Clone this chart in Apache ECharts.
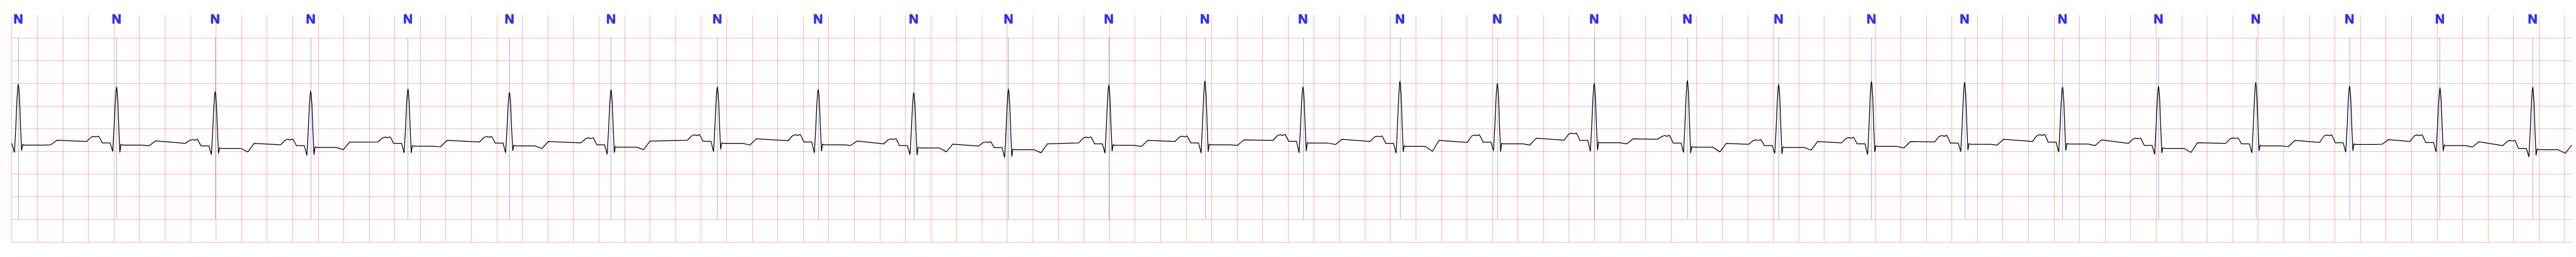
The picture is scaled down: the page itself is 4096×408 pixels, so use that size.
<!DOCTYPE html>
<html>
<head>
<meta charset="utf-8">
<script src="https://cdn.jsdelivr.net/npm/echarts@6/dist/echarts.min.js"></script>
<style>
html,body{margin:0;padding:0;background:#ffffff;}
#chart{width:4096px;height:408px;}
</style>
</head>
<body>
<div id="chart"></div>
<script>
// ---- Data (time in s, amplitude in mV) ----
const beatLabels = ['N','N','N','N','N','N','N','N','N','N','N','N','N','N','N','N','N','N','N','N','N','N','N','N','N','N','N'];
const rTimes = [0.051, 0.821, 1.594, 2.342, 3.104, 3.899, 4.695, 5.528, 6.318, 7.067, 7.809, 8.595, 9.348, 10.116, 10.876, 11.639, 12.398, 13.128, 13.843, 14.570, 15.300, 16.067, 16.819, 17.581, 18.316, 19.024, 19.751];
const rAmp   = [0.976, 0.916, 0.815, 0.824, 0.872, 0.797, 0.855, 0.918, 0.862, 0.792, 0.867, 0.961, 1.049, 0.918, 1.044, 0.993, 0.993, 1.061, 0.968, 1.039, 1.018, 0.918, 0.930, 1.013, 0.935, 0.898, 0.909];
const qAmp   = [-0.53, -0.51, -0.58, -0.594, -0.539, -0.539, -0.574, -0.511, -0.539, -0.581, -0.644, -0.544, -0.544, -0.539, -0.544, -0.493, -0.506, -0.531, -0.551, -0.581, -0.513, -0.523, -0.574, -0.539, -0.523, -0.522, -0.63];
const sAmp   = [-0.49, -0.53, -0.55, -0.581, -0.539, -0.493, -0.536, -0.463, -0.501, -0.589, -0.619, -0.506, -0.511, -0.498, -0.518, -0.511, -0.481, -0.544, -0.564, -0.518, -0.481, -0.488, -0.544, -0.493, -0.493, -0.50, -0.595];
const stLevel = [-0.37, -0.367, -0.44, -0.42, -0.392, -0.385, -0.413, -0.33, -0.362, -0.43, -0.468, -0.372, -0.362, -0.325, -0.397, -0.342, -0.317, -0.415, -0.42, -0.397, -0.35, -0.345, -0.44, -0.387, -0.355, -0.38, -0.47];
const stEnd   = [-0.36, -0.385, -0.52, -0.47, -0.405, -0.443, -0.468, -0.367, -0.375, -0.518, -0.539, -0.40, -0.375, -0.355, -0.506, -0.367, -0.342, -0.518, -0.481, -0.43, -0.367, -0.38, -0.53, -0.405, -0.349, -0.41, -0.55];
const tStart  = [-0.26, -0.276, -0.33, -0.304, -0.266, -0.29, -0.28, -0.229, -0.279, -0.347, -0.342, -0.266, -0.254, -0.241, -0.266, -0.216, -0.229, -0.33, -0.29, -0.29, -0.241, -0.254, -0.317, -0.266, -0.247, -0.295, -0.37];
const tEnd    = [-0.29, -0.33, -0.36, -0.30, -0.30, -0.32, -0.262, -0.27, -0.34, -0.39, -0.32, -0.29, -0.266, -0.29, -0.31, -0.26, -0.24, -0.35, -0.32, -0.30, -0.29, -0.33, -0.33, -0.31, -0.29, -0.38, null];
const pPeak   = [null, -0.17, -0.24, -0.234, -0.186, -0.175, -0.204, -0.137, -0.133, -0.224, -0.292, -0.186, -0.166, -0.133, -0.166, -0.14, -0.10, -0.153, -0.246, -0.196, -0.153, -0.133, -0.21, -0.204, -0.14, -0.139, -0.26];
const prLevel = [-0.33, -0.32, -0.385, -0.38, -0.33, -0.322, -0.36, -0.284, -0.30, -0.38, -0.425, -0.342, -0.32, -0.284, -0.33, -0.304, -0.266, -0.322, -0.38, -0.342, -0.322, -0.304, -0.375, -0.342, -0.317, -0.313, -0.44];
const recordStart = [0, -0.329];
const recordEnd = [20.058, -0.37];

// axis / grid ticks
const xMin = 0, xMax = 20.06, xTickStep = 0.2, xTickCount = 101;
const yTicks = [-2.5, -2.0, -1.5, -1.0, -0.5, 0.0, 0.5, 1.0, 1.5, 2.0];
const yMin = -2.5, yMax = 2.5;
const annotLow = -2.0, annotHigh = 2.0, labelLevel = 2.394;

// ---- Build the trace from the per-beat readings ----
const trace = [recordStart];
for (let i = 0; i < rTimes.length; i++) {
  const r = rTimes[i], R = rAmp[i], Q = qAmp[i], S = sAmp[i], PR = prLevel[i];
  const seg = [];
  if (i > 0) {
    const P = pPeak[i];
    seg.push([r - 0.235, tEnd[i - 1]]);
    seg.push([r - 0.200, P - 0.025]);
    seg.push([r - 0.178, P - 0.005]);
    seg.push([r - 0.160, P - 0.02]);
    seg.push([r - 0.140, P]);
    seg.push([r - 0.125, (P + PR) / 2]);
    seg.push([r - 0.112, PR]);
  }
  seg.push([r - 0.050, PR]);
  seg.push([r - 0.040, (PR + Q) / 2]);
  seg.push([r - 0.030, Q]);
  seg.push([r - 0.020, Q + 0.35 * (R - Q)]);
  seg.push([r - 0.010, Q + 0.78 * (R - Q)]);
  seg.push([r - 0.004, R - 0.05 * (R - Q)]);
  seg.push([r, R]);
  seg.push([r + 0.004, R - 0.05 * (R - S)]);
  seg.push([r + 0.010, S + 0.78 * (R - S)]);
  seg.push([r + 0.018, S + 0.35 * (R - S)]);
  seg.push([r + 0.026, S]);
  seg.push([r + 0.034, stLevel[i] + 0.015]);
  seg.push([r + 0.045, stLevel[i]]);
  seg.push([r + 0.200, stLevel[i]]);
  seg.push([r + 0.255, stEnd[i]]);
  seg.push([r + 0.305, tStart[i]]);
  seg.forEach(p => { if (p[0] > recordStart[0] && p[0] < recordEnd[0]) trace.push([+p[0].toFixed(4), +p[1].toFixed(4)]); });
}
trace.push(recordEnd);

const xTicks = [];
for (let k = 0; k < xTickCount; k++) xTicks.push(+(xMin + k * xTickStep).toFixed(1));

const gridLines = xTicks.map(v => ({ xAxis: v })).concat(yTicks.map(v => ({ yAxis: v })));
const annotLines = rTimes.map(t => [{ coord: [t, annotLow] }, { coord: [t, annotHigh] }]);
const labelPoints = rTimes.map((t, i) => ({ value: [t, labelLevel], name: beatLabels[i] }));

const chart = echarts.init(document.getElementById('chart'), null, { renderer: 'canvas' });
chart.setOption({
  animation: false,
  backgroundColor: '#ffffff',
  grid: { left: 18.7, right: 6.1, top: 23.9, bottom: 24.2, containLabel: false },
  xAxis: { type: 'value', min: xMin, max: xMax, show: false },
  yAxis: { type: 'value', min: yMin, max: yMax, show: false },
  series: [
    {
      name: 'grid', type: 'line', data: [], silent: true, z: 1,
      markLine: {
        z: 1, silent: true, symbol: ['none', 'none'], label: { show: false },
        lineStyle: { color: 'rgba(255,0,0,0.28)', width: 1.1, type: 'solid' },
        emphasis: { disabled: true },
        data: gridLines
      }
    },
    {
      name: 'annotations', type: 'line', data: [], silent: true, z: 2,
      markLine: {
        z: 2, silent: true, symbol: ['none', 'none'], label: { show: false },
        lineStyle: { color: 'rgba(0,0,255,0.55)', width: 0.6, type: 'solid' },
        emphasis: { disabled: true },
        data: annotLines
      }
    },
    {
      name: 'labels', type: 'scatter', data: labelPoints, silent: true, z: 4,
      symbolSize: 1, itemStyle: { color: 'rgba(0,0,0,0)' },
      label: {
        show: true, position: 'inside', formatter: p => p.name,
        color: '#0000ff', fontWeight: 'bold', fontSize: 21,
        textBorderColor: '#0000ff', textBorderWidth: 0.8,
        fontFamily: '"Liberation Sans", Arial, sans-serif'
      }
    },
    {
      name: 'ECG', type: 'line', data: trace, z: 5, silent: true,
      showSymbol: false, symbol: 'none', smooth: false, sampling: null,
      lineStyle: { color: '#000000', width: 1.25 }
    }
  ]
});
</script>
</body>
</html>
